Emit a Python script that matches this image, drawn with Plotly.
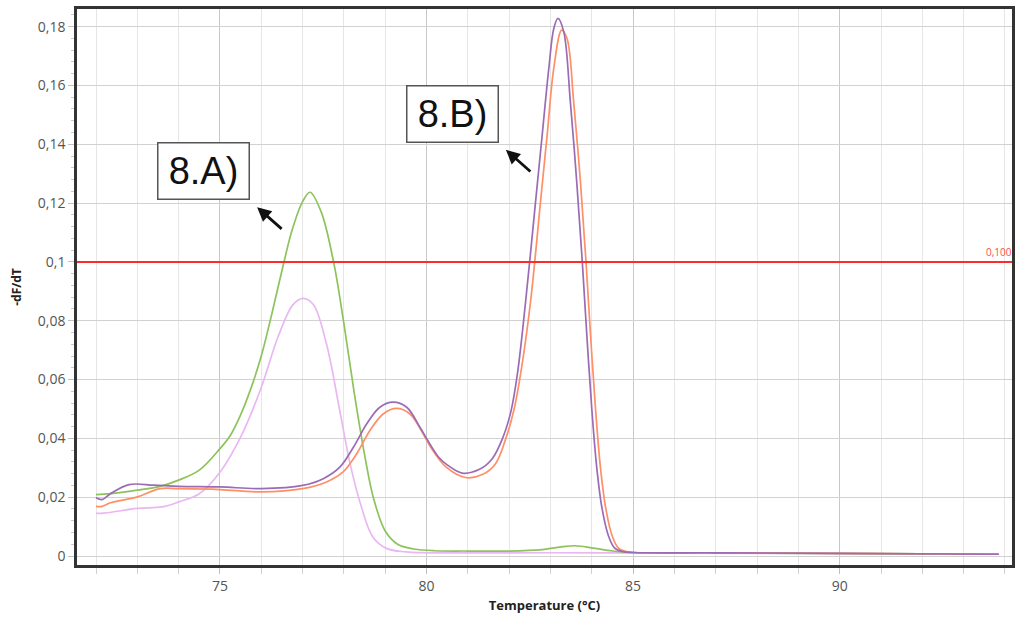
import plotly.graph_objects as go

# ---- data ----
green_t = [72.0, 72.35, 73.0, 73.55, 74.0, 74.5, 75.0, 75.25, 75.5, 75.75, 76.0, 76.25, 76.5, 76.75, 77.0,
           77.18, 77.45, 77.75, 78.0, 78.25, 78.5, 78.72, 79.0, 79.3, 79.7, 80.2, 81.0, 82.0, 82.8, 83.3,
           83.6, 84.0, 84.5, 85.0, 87.0, 89.0, 91.0, 93.85]
green_v = [0.0209, 0.0212, 0.0224, 0.0237, 0.0258, 0.0292, 0.0365, 0.041, 0.048, 0.057, 0.068, 0.082,
           0.097, 0.111, 0.1205, 0.1237, 0.117, 0.100, 0.079, 0.0555, 0.0345, 0.0195, 0.0085, 0.0040,
           0.0024, 0.0018, 0.0017, 0.0017, 0.0022, 0.0032, 0.0035, 0.0028, 0.0017, 0.0012, 0.0011,
           0.0009, 0.0008, 0.0006]

pink_t = [72.0, 72.2, 73.0, 73.6, 74.0, 74.5, 75.0, 75.5, 76.0, 76.4, 76.77, 77.02, 77.26, 77.58, 77.9,
          78.15, 78.4, 78.7, 79.03, 79.5, 80.0, 82.0, 84.0, 86.0, 90.0, 93.85]
pink_v = [0.0145, 0.0146, 0.0162, 0.0167, 0.0184, 0.0212, 0.0285, 0.0404, 0.0573, 0.0743, 0.0855, 0.0876,
          0.0855, 0.072, 0.0494, 0.0314, 0.0178, 0.0065, 0.0026, 0.0014, 0.0011, 0.0011, 0.0011, 0.0010,
          0.0008, 0.0006]

purple_t = [72.0, 72.15, 72.35, 72.8, 73.4, 74.0, 75.0, 76.0, 77.0, 77.5, 77.9, 78.23, 78.55, 78.87, 79.19,
            79.52, 79.84, 80.0, 80.3, 80.5, 80.86, 81.27, 81.59, 81.84, 82.04, 82.2, 82.4, 82.64, 82.8, 82.96,
            83.08, 83.18, 83.32, 83.48, 83.64, 83.77, 83.88, 84.0, 84.12, 84.25, 84.4, 84.55, 84.75, 85.0,
            87.0, 90.0, 93.85]
purple_v = [0.0198, 0.0192, 0.0212, 0.0243, 0.0241, 0.0237, 0.0235, 0.0229, 0.024, 0.0263, 0.0302, 0.037,
            0.0449, 0.0506, 0.0523, 0.0506, 0.0438, 0.040, 0.0335, 0.031, 0.0282, 0.0294, 0.0331, 0.040,
            0.049, 0.062, 0.0868, 0.1207, 0.1433, 0.1659, 0.1794, 0.1828, 0.1783, 0.1546, 0.1263, 0.1,
            0.075, 0.05, 0.03, 0.016, 0.007, 0.0028, 0.0015, 0.0012, 0.0011, 0.0009, 0.0006]

orange_t = [72.0, 72.15, 72.35, 73.0, 73.55, 74.0, 75.0, 76.0, 77.0, 77.58, 77.98, 78.31, 78.63, 78.95, 79.27,
            79.6, 79.92, 80.1, 80.47, 80.94, 81.35, 81.67, 81.92, 82.12, 82.3, 82.52, 82.76, 82.92, 83.08,
            83.27, 83.4, 83.56, 83.73, 83.86, 83.97, 84.09, 84.21, 84.34, 84.49, 84.64, 84.84, 85.05,
            87.0, 90.0, 93.85]
orange_v = [0.0169, 0.0169, 0.0181, 0.0201, 0.0229, 0.0229, 0.0226, 0.0218, 0.0229, 0.0252, 0.0286, 0.0348,
            0.0427, 0.0483, 0.0502, 0.0483, 0.0415, 0.037, 0.0303, 0.0267, 0.0277, 0.0314, 0.040, 0.050,
            0.064, 0.0868, 0.1207, 0.1433, 0.1659, 0.1788, 0.176, 0.1546, 0.1263, 0.1, 0.075, 0.05, 0.03,
            0.016, 0.007, 0.0028, 0.0015, 0.0012, 0.0011, 0.0009, 0.0006]

threshold = 0.1
threshold_label = "0,100"

x_tickvals = [75, 80, 85, 90]
y_tickvals = [0, 0.02, 0.04, 0.06, 0.08, 0.1, 0.12, 0.14, 0.16, 0.18]
y_ticktext = ["0", "0,02", "0,04", "0,06", "0,08", "0,1", "0,12", "0,14", "0,16", "0,18"]

fig = go.Figure()
series = [
    (pink_t, pink_v, "#e9b8f2"),
    (green_t, green_v, "#8dc35b"),
    (orange_t, orange_v, "#ff8f66"),
    (purple_t, purple_v, "#9a6cb6"),
]
for t, v, c in series:
    fig.add_trace(go.Scatter(x=t, y=v, mode="lines",
                             line=dict(color=c, width=1.7, shape="spline", smoothing=1.0),
                             showlegend=False, hoverinfo="skip"))

fig.add_shape(type="line", xref="paper", x0=0, x1=1, yref="y", y0=threshold, y1=threshold,
              line=dict(color="#ff2a2a", width=2))
fig.add_annotation(xref="paper", x=1, xanchor="right", xshift=2, yref="y", y=threshold,
                   yanchor="bottom", yshift=1, text=threshold_label, showarrow=False,
                   font=dict(family="Open Sans", size=10, color="#ff4a4a"))

box_font = dict(family="Liberation Sans", size=38, color="#111")
for label, bx, by in [("8.A)", 74.60, 0.1310), ("8.B)", 80.63, 0.1503)]:
    fig.add_annotation(x=bx, y=by, xref="x", yref="y", text=label, showarrow=False,
                       font=box_font, bgcolor="white", bordercolor="#555", borderwidth=1.5,
                       borderpad=0, width=90, height=55)
for hx, hy in [(75.90, 0.1186), (81.92, 0.1381)]:
    fig.add_annotation(x=hx, y=hy, xref="x", yref="y", text="", showarrow=True,
                       ax=26, ay=23, arrowhead=2, arrowsize=1, arrowwidth=2.8, arrowcolor="#111")

tickfont = dict(family="Open Sans", size=14, color="#555")
fig.update_layout(
    width=1021, height=620,
    margin=dict(l=77, r=6, t=7, b=55),
    paper_bgcolor="white", plot_bgcolor="white",
    xaxis=dict(range=[71.54, 94.17], tickmode="array", tickvals=x_tickvals,
               showgrid=True, gridcolor="#c9c9c9", gridwidth=1,
               ticks="outside", ticklen=6, tickcolor="#c0c0c0",
               showline=True, linecolor="#333", linewidth=2.5, mirror=True,
               tickfont=tickfont, zeroline=False,
               minor=dict(tickmode="linear", tick0=72, dtick=1, showgrid=True, gridcolor="#e6e6e6",
                          ticks="outside", ticklen=6, tickcolor="#d0d0d0"),
               title=dict(text="Temperature (°C)", standoff=8,
                          font=dict(family="Open Sans", size=13, color="#222", weight="bold"))),
    yaxis=dict(range=[-0.00305, 0.186], tickmode="array", tickvals=y_tickvals, ticktext=y_ticktext,
               showgrid=True, gridcolor="#d2d2d2", gridwidth=1,
               ticks="outside", ticklen=6, tickcolor="#c0c0c0",
               showline=True, linecolor="#333", linewidth=2.5, mirror=True,
               tickfont=tickfont, zeroline=False,
               minor=dict(tickmode="linear", tick0=0, dtick=0.004, showgrid=False,
                          ticks="outside", ticklen=3, tickcolor="#c8c8c8"),
               title=dict(text="-dF/dT", standoff=14,
                          font=dict(family="Open Sans", size=12, color="#222", weight="bold"))),
)

fig.write_html("out.html", config={"displayModeBar": False},
               post_script="document.body.style.margin='0';document.body.style.overflow='hidden';")
